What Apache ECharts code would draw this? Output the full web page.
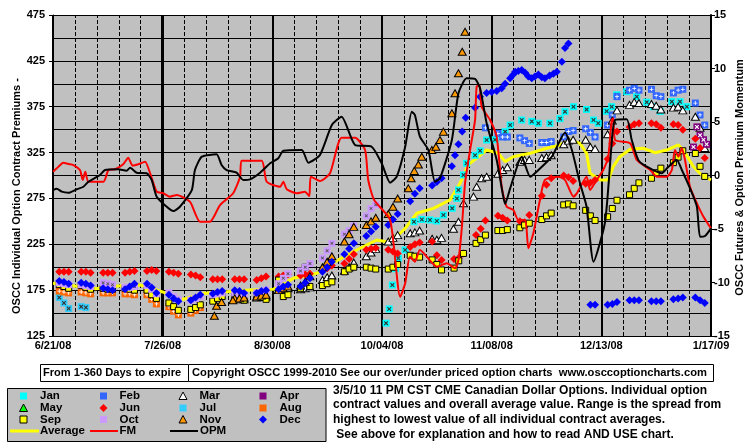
<!DOCTYPE html>
<html><head><meta charset="utf-8">
<script src="https://cdn.jsdelivr.net/npm/echarts/dist/echarts.min.js"></script>
<style>html,body{margin:0;padding:0;background:#fff}#c{width:755px;height:446px}</style>
</head><body><div id="c"></div>
<script>
// ---------- DATA ----------
// x = days since 6/21/08 ; tick labels every 35 days
const xLabels = ['6/21/08','7/26/08','8/30/08','10/04/08','11/08/08','12/13/08','1/17/09'];
const N = null;
// trading-day sample positions (3 per week, Mon..Fri)
const tradeDays = [
 2,3.5,5, 9,10.5,12, 16,17.5,19, 23,24.5,26, 30,31.5,33,
 37,38.5,40, 44,45.5,47, 51,52.5,54, 58,59.5,61, 65,66.5,68,
 72,73.5,75, 79,80.5,82, 86,87.5,89, 93,94.5,96, 100,101.5,103,
 107,108.5,110, 114,115.5,117, 121,122.5,124, 128,129.5,131, 135,136.5,138,
 142,143.5,145, 149,150.5,152, 156,157.5,159, 163,164.5,166, 170,171.5,173,
 177,178.5,180, 184,185.5,187, 191,192.5,194, 198,199.5,201, 205,206.5,208];

const junVals = [
 195,195,195, 195,195,194, 194,194,194, 194,195,196, 196,197,196,
 195,194,193, 192,191,189, 187,187,187, 187,187,187, 186,188,190,
 190,191,192, 191,192,193, 196,199,202, 204,209,214, 219,220,221,
 219,217,215, 222,225,227, 228,213,208, 209,210,215, 235,242,251,
 256,254,251, 250,249,257, 278,290,297, 300,298,294, 291,292,295,
 318,335,348, 353,356,357, 357,356,352, 356,355,350, 340,330,319];
const sepVals = [
 181,179,177, 180,178,176, 177,176,176, 177,176,175, 175,170,166,
 161,157,153, 154,156,159, 163,166,168, 168,166,164, 168,167,165,
 186,168,170, 177,200,179, 180,182,184, 195,198,200, 200,199,198,
 198,200,203, 213,212,211, 208,203,197, 199,207,215, 226,230,235,
 240,240,241, 243,246,248, 252,256,259, 268,269,267, 262,256,251,
 255,264,273, 279,286,292, 297,303,308, 314,320,327, 324,310,299];
const augVals = [
 174,173,172, 173,172,171, 172,172,172, 171,171,170, 170,165,160,
 157,152,148, 150,153,156, N,N,N, N,N,N, N,N,N];
const octVals = [
 183,182,181, 181,180,179, 183,182,181, 178,178,179, 180,176,171,
 172,168,165, 164,166,168, 170,171,172, 172,171,170, 172,173,175,
 182,188,193, 196,200,204, 210,218,226, 236,240,245, 256,264,268];
const decVals = [
 185,184,182, 183,182,180, 177,176,175, 176,179,182, 182,178,172,
 170,166,163, 164,167,170, 171,173,174, 175,174,172, 172,174,175,
 176,179,181, 179,183,188, 195,200,206, 214,220,226, 234,239,244,
 246,252,258, 272,280,286, 289,293,297, N,N,N, N,N,N,
 N,N,N, N,N,N, N,N,N, N,N,N, N,159,159,
 159,160,162, 164,164,164, 163,163,163, 165,166,167, 167,164,161];
const decExtra = [[127.3,310],[128.3,322],[129.4,334],[130.6,348],[131.7,363],[134.7,374],[136.3,386],
 [138.4,390],[140,391],[141.6,392],[143.2,395],[144.3,400],[145.9,406],[146.9,410],[147.5,413],[148.5,414],
 [149.6,415],[150.7,412],[151.7,408],[152.8,406],[153.8,408],[154.9,410],[156,407],[157,406],[158.5,409],
 [159.7,411],[160.8,413],[162.4,424],[163.4,439],[164.5,444]];
const novVals = [
 N,N,N, N,N,N, N,N,N, N,N,N, N,N,N,
 N,N,N, N,N,N, N,N,N, 166,166,167, 168,169,170,
 175,177,179, 180,184,190, 200,206,212, 228,236,244, 246,250,254,
 258,266,275];
const novExtra = [[51.5,147],[52.2,158],[53.8,162],[57.4,164],
 [113.4,286],[114.3,297],[115.3,305],[116.6,312],[117.7,320.5],[120.9,327.8],[122.2,331.4],
 [123.5,338.7],[124.6,347.8],[127.3,367.8],[128.3,389.6],[129.4,411.4],[130.6,435],[131.5,456.8]];
const marVals = [
 N,N,N, N,N,N, N,N,N, N,N,N, N,N,N,
 N,N,N, N,N,N, N,N,N, 166,165,165, 167,168,168,
 175,176,177, 176,177,178, 186,189,191, 196,200,205, 212,216,220,
 228,232,235, 237,238,240, 231,230,232, N,N,N, N,N,N,
 302,306,309, 315,317,317, 319,320,322, 334,338,339, 339,331,329,
 345,360,371, 377,380,379, 378,376,372, 374,375,371, 364,352,330];
const marExtra = [[127.8,242],[129.4,249.6],[131,269.7],[134.2,277],[135.2,287.8],[136.8,297],[138.4,298.7]];
const febVals = [
 N,N,N, N,N,N, N,N,N, N,N,N, N,N,N,
 N,N,N, N,N,N, N,N,N, N,N,N, N,N,N,
 N,N,N, N,N,N, N,N,N, N,N,N, N,N,N,
 N,N,N, N,N,N, N,N,N, N,N,N, N,N,352,
 346,342,342, 341,338,335, 336,336,337, 342,348,349, 351,347,342,
 355,366,386, 393,395,393, 394,387,386, 390,393,394, 379,366,355];
const janPts = [[106.3,139],[107.3,154.5],[108.3,180.6],[109.3,198.4],[110.2,209.7],[112.4,218.8],
 [115.2,249.6],[117.7,252],[120.3,251.5],[122.5,250.4],[124.6,257],[127.4,264.2],[128.9,275],[129.4,284.2],
 [131,300.6],[132,313.3],[134.7,322],[136.3,327],[138.4,338.7],[141.1,339],[144.3,347.8],[145.9,355],
 [149.6,360.5],[152.8,359],[154.9,357],[158.6,357],[161.8,362],[163.4,369.6],[166.1,375],[170.3,372],
 [172.5,360.5],[174,357],[176.7,370],[178.3,375],[179.9,388],[183.1,391.4],[186.3,386],[189.5,380],
 [191.6,375],[193.8,370],[197.5,380.5],[200.1,380.5],[202.3,375]];
const julPts = [[2,167],[3.5,161],[5,155],[9,157],[10.5,156]];
const aprPts = [[204.4,331],[205.5,353],[206.5,344],[207.6,339],[208.6,334]];
const mayPts = [];
// Average (left axis)
const avgPts = [[0,182.5],[13.6,176.6],[20.8,179.5],[27.8,180.6],[34.7,173.3],[41.6,165],[48.5,171.6],
 [55.4,173.3],[62.9,175.2],[70.3,175.9],[76.7,187.9],[84.2,193.4],[90,206],[96.9,218.8],[103.3,229.7],
 [106.5,227.8],[110.8,237],[112.4,242.4],[116.1,258.8],[121.4,264.2],[126.7,273.3],[129.9,291.5],
 [132.5,311.5],[138.4,327.8],[142.1,324.2],[144.3,315.1],[146.9,320.5],[152.3,324.2],[157.6,329.7],
 [161.8,333.3],[165,338.7],[168.2,335.1],[170.3,324.2],[171.4,302.4],[174.6,295.1],[177.2,295.1],
 [178.8,309.6],[180.9,320.5],[184.2,328.6],[188.4,329.7],[192.1,324.9],[195.9,327.8],[199.6,333.3],
 [201.2,327.8],[204.4,309.6],[207.6,298.7],[210,295.1]];
// FM and OPM (right axis)
const fmPts = [[0,0.35],[1.2,0.67],[3.3,1.2],[4.9,1.07],[6.5,0.98],[8.6,0.51],[9.5,-0.42],[10.3,0.35],
 [11.3,-0.58],[16.1,-0.58],[17.7,0.51],[19.8,0.58],[22.4,1.05],[24,1.66],[25.4,0.92],[27.2,1.05],[29.4,1.29],
 [31,0.21],[33.1,-1.51],[35.2,-1.66],[37.3,-1.98],[39.5,-1.82],[43.7,-2.45],[46.9,-4.32],[50.1,-4.32],
 [53.3,-2.76],[57.5,-1.66],[59.7,-0.11],[60.2,1.38],[66.6,1.38],[68.2,-0.58],[72.5,-1.05],[73.5,-0.58],
 [74.6,-1.29],[77.8,-1.66],[80.4,-1.51],[81.8,-1.92],[82.3,-0.11],[85.2,-0.51],[88.4,0.21],[92.1,3.53],
 [96.4,3.53],[99.6,2.38],[100.6,-0.42],[102.5,-2.29],[107.6,-4.16],[110.8,-11.33],[112.4,-10.08],
 [113.9,-7.59],[115.5,-8.06],[117.1,-6.96],[122.5,-8.52],[125.7,-8.21],[128.3,-8.67],[129.4,-7.9],
 [130.5,-4.79],[131.5,-0.73],[133.1,2.38],[134.7,5.19],[135.2,8.3],[136.1,8.46],[136.8,6.43],[139.5,5.19],
 [141.6,3.63],[143.2,-1.05],[144.8,-2.92],[146.9,-3.22],[148.5,-4.16],[150.7,-4.16],[151.7,-6.8],
 [153.3,-5.4],[155.4,-2.29],[157,-0.42],[161.3,-0.11],[163.4,-0.42],[166.1,-1.98],[167.2,-1.66],
 [170.3,-0.11],[171.4,-1.36],[173.5,-0.42],[175.6,0.51],[177.2,1.76],[178.3,5.19],[178.8,5.35],
 [179.4,3.32],[184.2,3.01],[186.3,1.45],[190.6,0.51],[192.7,-0.11],[195.9,-0.11],[197.5,0.51],
 [198.5,2.38],[199.6,1.76],[200.7,2.54],[201.7,1.45],[203.3,-1.05],[205.5,-2.6],[207.6,-3.85],[210,-4.94]];
const opmPts = [[0,-1.36],[1.2,-1.23],[2.8,-1.51],[4.9,-1.61],[7.6,-1.29],[9.7,-1.05],[11.3,-0.58],
 [15,0.05],[16.6,0.51],[20.8,0.58],[23.5,0.45],[24.6,0.73],[26.7,0.26],[29.9,0.21],[31.5,-0.42],
 [33.1,-1.98],[36.3,-2.92],[38.4,-3.32],[40.5,-2.92],[44.3,-1.36],[45.3,0.51],[47.5,1.76],[52.2,1.98],
 [53.8,0.98],[55.4,0.51],[58.6,0.26],[60.7,-0.42],[62.9,-0.36],[66.1,0.26],[69.3,1.14],[71.9,1.61],
 [73.5,2.32],[79.4,2.38],[81.5,1.2],[85.2,1.92],[89,4.72],[92.1,5.5],[96.4,2.85],[101.7,2.69],
 [104.9,1.14],[107.6,-0.67],[109.7,-0.11],[112.4,2.69],[114.5,5.96],[115.5,5.65],[117.1,3.63],
 [119.8,2.38],[121.9,-0.58],[123.5,-0.26],[127.3,3.32],[129.4,7.68],[132,9.08],[134.7,9.02],
 [136.3,8.15],[138.4,4.88],[141.6,1.45],[143.7,-1.98],[144.3,-2.66],[145.9,-1.2],[149.6,1.76],
 [152.3,-0.11],[154.9,0.51],[159.2,1.76],[163.4,4.0],[165.6,2.38],[168.2,-0.73],[170.3,-2.92],
 [172.5,-8.06],[176.2,-4.32],[178.3,3.0],[179.4,5.19],[183.1,5.25],[184.7,3.32],[186.8,1.45],
 [189.5,0.82],[194.3,0.21],[196.4,0.82],[199.1,1.45],[200.7,0.51],[203.3,-1.2],[205.5,-2.92],
 [206.5,-5.72],[208.1,-5.65],[210,-4.94]];

// ---------- BUILD ----------
function withDays(vals){const o=[];vals.forEach((v,i)=>{if(v!=null)o.push([tradeDays[i],v]);});return o;}
const FONT='"Liberation Sans", Arial, sans-serif';
const PLUS='path://M2,0H3V2H5V3H3V5H2V3H0V2H2Z';
const CROSS='path://M0,0L1,0L2.5,1.5L4,0L5,0L5,1L3.5,2.5L5,4L5,5L4,5L2.5,3.5L1,5L0,5L0,4L1.5,2.5L0,1Z';
function sc(name,data,symbol,size,color,border){
  return {name,type:'scatter',data,symbol,symbolSize:size,z:2,silent:true,
    itemStyle:{color,borderColor:border||color,borderWidth:border?1:0,opacity:1}};
}
function mark(name,data,path,color,size){
  return {name:name+' mark',type:'scatter',data,symbol:path,symbolSize:size,z:2,silent:true,
    itemStyle:{color,borderWidth:0,opacity:1}};
}
// weekly dashed grid lines (every 7 days, except the solid 35-day ones) and the heavier 7/26 line
const weekGrid=[];
for(let d=7; d<210; d+=7){ if(d%35!==0) weekGrid.push({xAxis:d}); }
weekGrid.push({xAxis:35,lineStyle:{type:'solid',width:3,color:'#000'}});

const febData=withDays(febVals), augData=withDays(augVals), octData=withDays(octVals);
const series=[
 {name:'Average',type:'line',data:avgPts,symbol:'none',z:1,lineStyle:{color:'#FFFF00',width:3},silent:true,
  markLine:{silent:true,z:1,symbol:['none','none'],label:{show:false},animation:false,
    lineStyle:{color:'#000',width:1,type:'dashed',opacity:1},emphasis:{disabled:true},data:weekGrid}},
 sc('Jan',janPts,'rect',7,'#00FFFF'), mark('Jan',janPts,CROSS,'#333333',4),
 sc('Feb',febData,'rect',7,'#3366FF'), mark('Feb',febData,PLUS,'#FFFFFF',4),
 sc('Mar',withDays(marVals).concat(marExtra),'triangle',[8,7],'#FFFFFF','#000'),
 sc('Apr',aprPts,'rect',7,'#800080'), mark('Apr',aprPts,CROSS,'#FFFFFF',4),
 sc('May',mayPts,'triangle',[8,7],'#00FF00','#000'),
 sc('Jun',withDays(junVals),'diamond',8,'#FF0000'),
 sc('Jul',julPts,'rect',7,'#33CCFF'), mark('Jul',julPts,CROSS,'#333333',4),
 sc('Aug',augData,'rect',7,'#FF6600'), mark('Aug',augData,PLUS,'#FFFFFF',4),
 sc('Sep',withDays(sepVals),'rect',6,'#FFFF00','#000'),
 sc('Oct',octData,'rect',7,'#CC99FF'), mark('Oct',octData,CROSS,'#555555',3),
 sc('Nov',withDays(novVals).concat(novExtra),'triangle',[8,7],'#FF9900','#000'),
 sc('Dec',withDays(decVals).concat(decExtra),'diamond',8,'#0000FF'),
 {name:'FM',type:'line',yAxisIndex:1,data:fmPts,symbol:'none',smooth:0.2,z:3,lineStyle:{color:'#FF0000',width:2},silent:true},
 {name:'OPM',type:'line',yAxisIndex:1,data:opmPts,symbol:'none',smooth:0.2,z:3,lineStyle:{color:'#000000',width:2},silent:true}
];

// legend graphics (layout/style only)
const legCols=[23.5,103.5,183,263], legTx=[40,119.5,199.5,279.5], legRows=[396,408,419.5,431];
const legItems=[
 ['Jan','rect','#00FFFF',null],['Feb','rect','#3366FF',null],['Mar','tri','#FFFFFF','#000'],['Apr','rect','#800080',null],
 ['May','tri','#00FF00','#000'],['Jun','dia','#FF0000',null],['Jul','rect','#33CCFF',null],['Aug','rect','#FF6600',null],
 ['Sep','rect','#FFFF00','#000'],['Oct','rect','#CC99FF',null],['Nov','tri','#FF9900','#000'],['Dec','dia','#0000FF',null]];
const g=[];
function txt(x,y,s,size,extra){return Object.assign({type:'text',x,y,z:100,style:{text:s,fill:'#000',font:'bold '+size+'px '+FONT,align:'left',verticalAlign:'middle',textAlign:'left',textVerticalAlign:'middle'}},extra||{});}
g.push({type:'rect',z:90,shape:{x:7.5,y:388.5,width:318.5,height:53},style:{fill:'#C0C0C0',stroke:'#000',lineWidth:1}});
legItems.forEach((it,i)=>{
  const cx=legCols[i%4], cy=legRows[Math.floor(i/4)];
  let el;
  if(it[1]==='rect') el={type:'rect',shape:{x:cx-3.5,y:cy-3.5,width:7,height:7}};
  else if(it[1]==='tri') el={type:'polygon',shape:{points:[[cx,cy-4],[cx+4,cy+3.5],[cx-4,cy+3.5]]}};
  else el={type:'polygon',shape:{points:[[cx,cy-4],[cx+4,cy],[cx,cy+4],[cx-4,cy]]}};
  el.z=100; el.style={fill:it[2],stroke:it[3]||it[2],lineWidth:it[3]?1:0};
  g.push(el);
  g.push(txt(legTx[i%4],cy,it[0],11.5));
});
[['Average',10,39,'#FFFF00',3,40],['FM',90,118,'#FF0000',2,119.5],['OPM',170,198,'#000000',2,200]].forEach(l=>{
  g.push({type:'line',z:100,shape:{x1:l[1],y1:431,x2:l[2],y2:431},style:{stroke:l[3],lineWidth:l[4]}});
  g.push(txt(l[5],431,l[0],11.5));
});
// boxes
g.push({type:'rect',z:90,shape:{x:40.5,y:364.5,width:148,height:17},style:{fill:'#fff',stroke:'#000',lineWidth:1}});
g.push({type:'rect',z:90,shape:{x:188.5,y:364.5,width:525,height:17},style:{fill:'#fff',stroke:'#000',lineWidth:1}});
g.push(txt(43,373,'From 1-360 Days to expire',11.1));
g.push(txt(192,373,'Copyright OSCC 1999-2010 See our over/under priced option charts  www.osccoptioncharts.com',11.2));
// right text block
['3/5/10 11 PM CST CME Canadian Dollar Options. Individual option',
 'contract values and overall average value. Range is the spread from',
 'highest to lowest value of all individual contract averages.',
 ' See above for explanation and how to read AND USE chart.'].forEach((s,i)=>{
  g.push(txt(333,390.5+i*14.6,s,12));
});
// axis titles
g.push(txt(16.5,196,'OSCC Individual Option Contract Premiums -',11,{rotation:Math.PI/2}));
g.push(txt(740,177.5,'OSCC Futures & Option Premium Momentum',11,{rotation:Math.PI/2}));
g.forEach(e=>{ if(e.type==='text' && e.rotation){ e.style.align='center'; e.style.textAlign='center'; } });

const axisFont={color:'#000',fontFamily:FONT,fontWeight:'bold',fontSize:11};
const option={
  animation:false,
  backgroundColor:'#FFFFFF',
  grid:{left:53,top:15,width:658,height:321,show:true,backgroundColor:'#C0C0C0',borderWidth:0},
  xAxis:{type:'value',min:0,max:210,interval:35,
      axisLine:{show:true,onZero:false,lineStyle:{color:'#000',width:1}},
      axisTick:{show:false},
      axisLabel:Object.assign({formatter:v=>xLabels[Math.round(v/35)]||'',margin:4},axisFont),
      splitLine:{show:true,lineStyle:{color:'#000',width:2}}},
  yAxis:[
    {type:'value',min:125,max:475,interval:25,position:'left',
      axisLine:{show:true,onZero:false,lineStyle:{color:'#000',width:1}},axisTick:{show:false},axisLabel:{show:false},
      splitLine:{show:true,lineStyle:{color:'#000',width:1}}},
    {type:'value',min:-15,max:15,interval:5,position:'right',
      axisLine:{show:true,onZero:false,lineStyle:{color:'#000',width:2}},
      axisTick:{show:true,length:4,lineStyle:{color:'#000',width:1}},
      axisLabel:Object.assign({margin:3},axisFont),splitLine:{show:false}},
    {type:'value',min:0,max:350,interval:50,position:'left',
      axisLine:{show:false},axisTick:{show:true,length:4,lineStyle:{color:'#000',width:1}},
      axisLabel:Object.assign({formatter:v=>String(v+125),margin:8},axisFont),splitLine:{show:false}}
  ],
  series,
  graphic:{elements:g}
};
const chart=echarts.init(document.getElementById('c'),null,{renderer:'canvas'});
chart.setOption(option);
</script></body></html>
